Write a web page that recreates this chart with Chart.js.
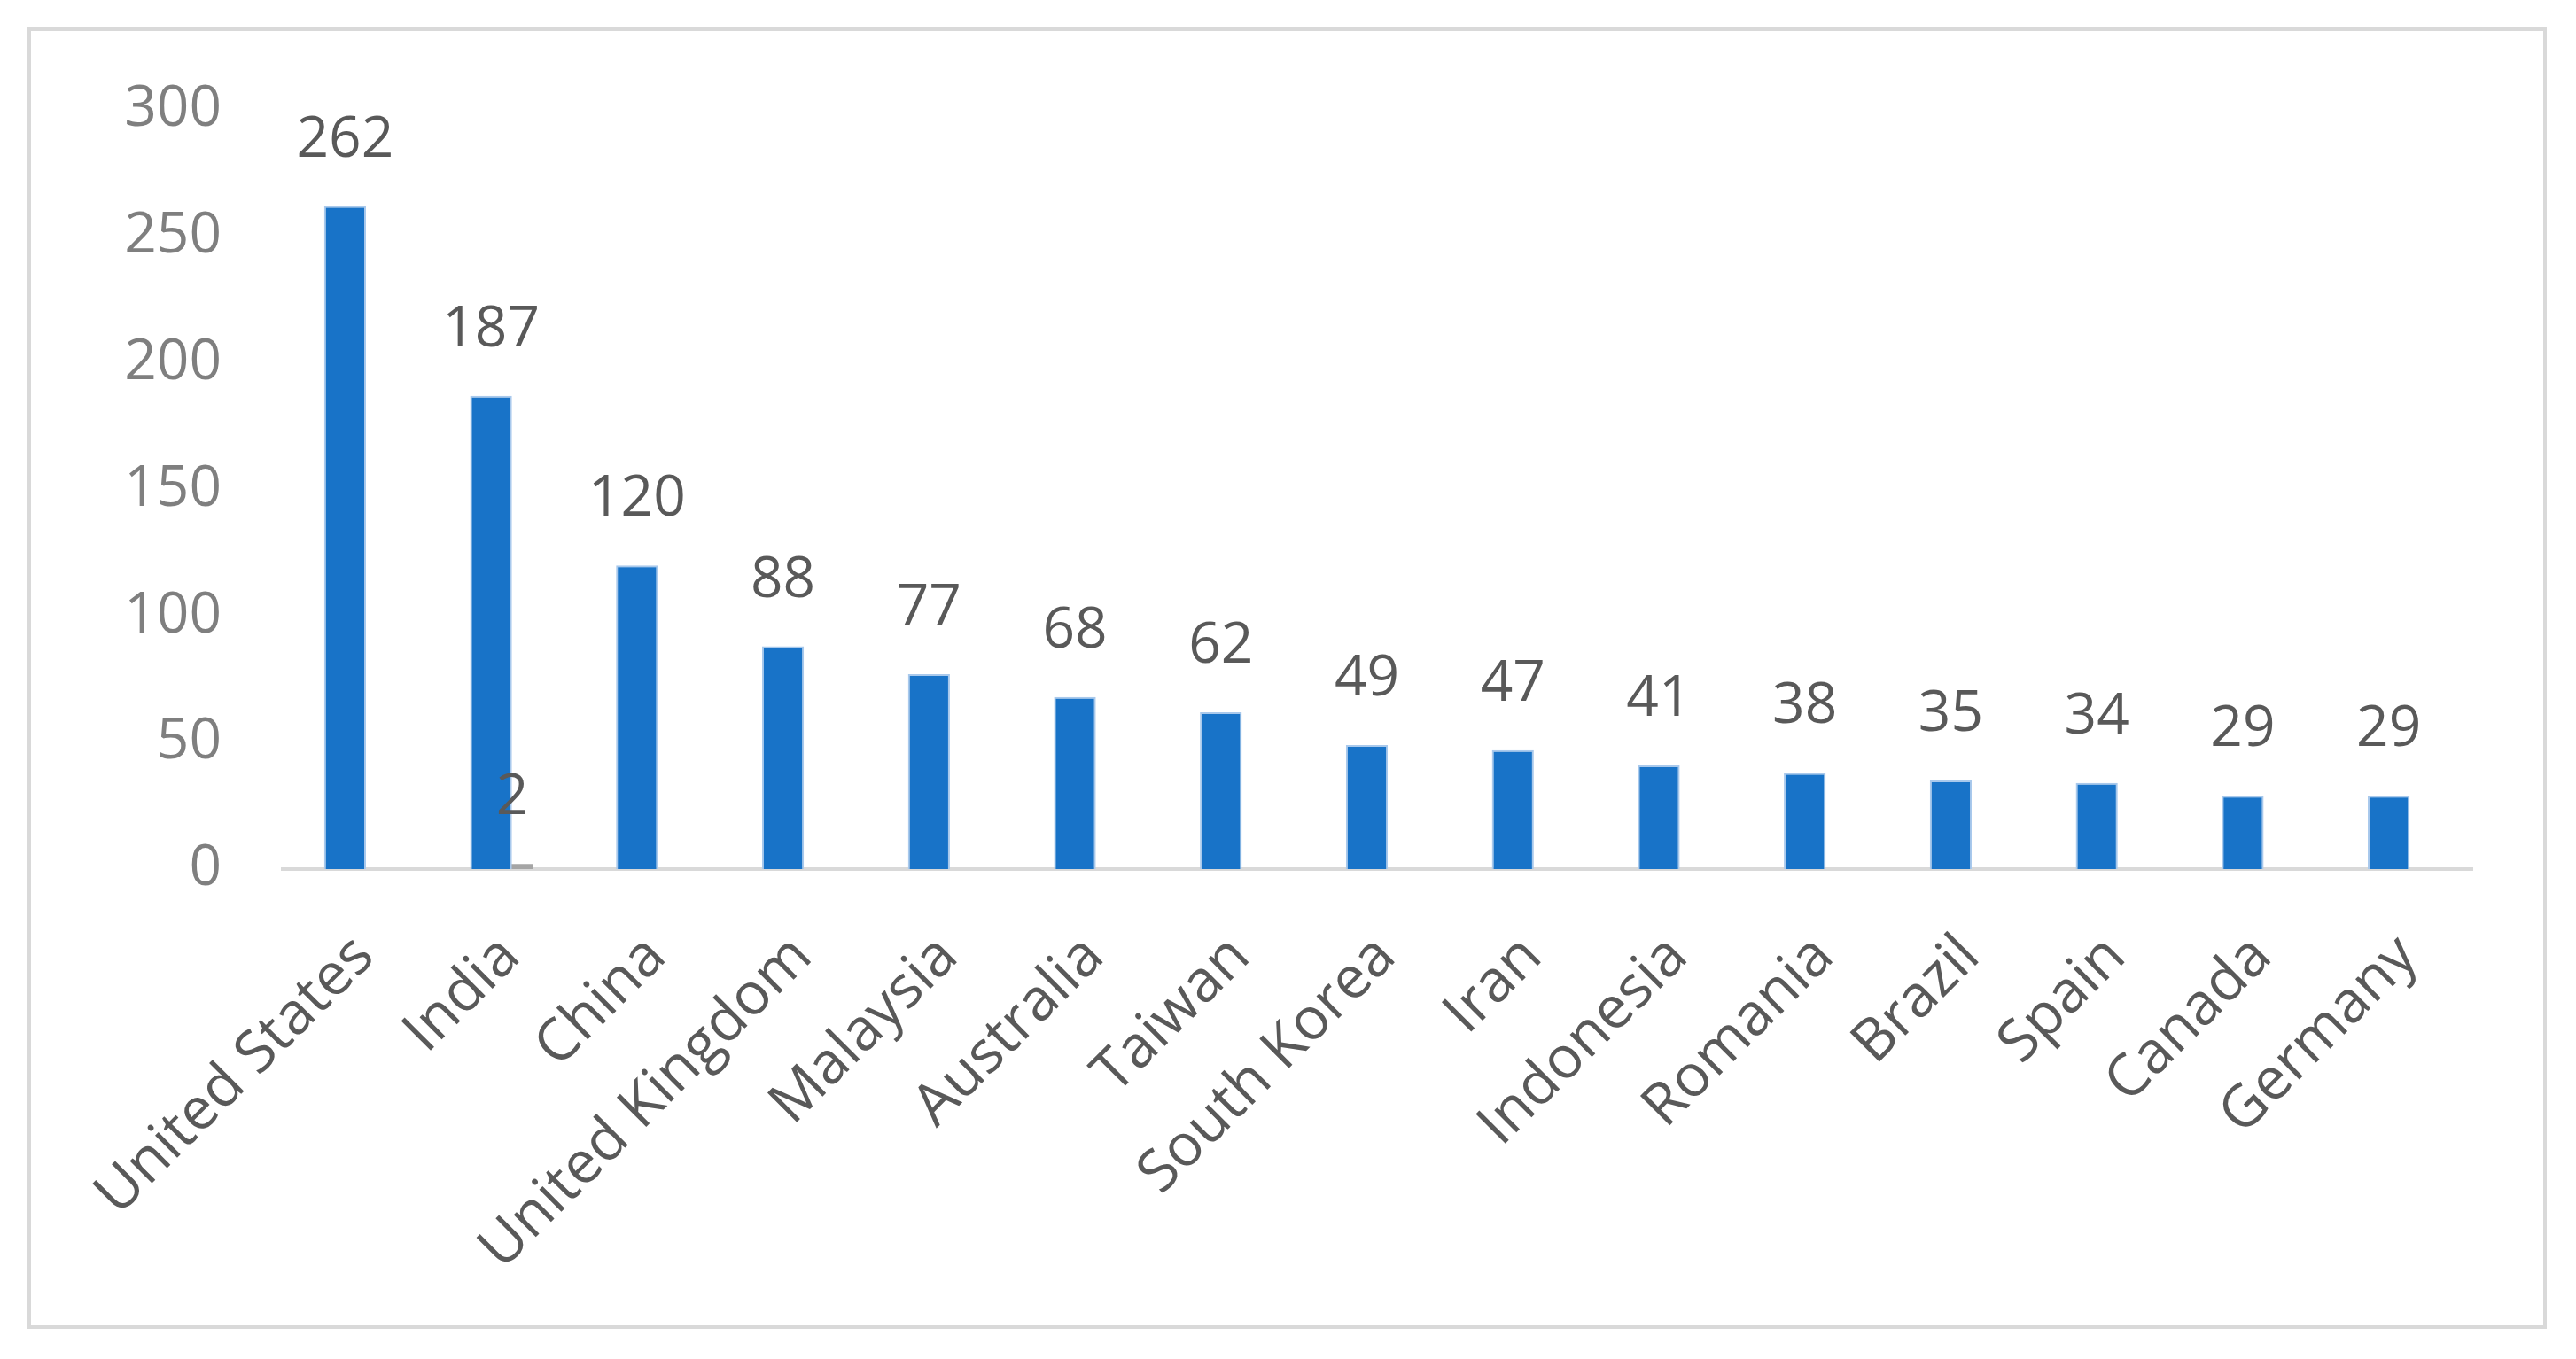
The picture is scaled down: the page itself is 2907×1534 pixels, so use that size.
<!DOCTYPE html>
<html>
<head>
<meta charset="utf-8">
<script src="https://cdn.jsdelivr.net/npm/chart.js@4"></script>
<style>
  html, body { margin: 0; padding: 0; background: #ffffff; }
  #wrap { position: relative; width: 2907px; height: 1534px; }
  canvas { display: block; }
</style>
</head>
<body>
<div id="wrap"><canvas id="c" width="2907" height="1534"></canvas></div>
<script>
const categories = ["United States", "India", "China", "United Kingdom", "Malaysia", "Australia", "Taiwan", "South Korea", "Iran", "Indonesia", "Romania", "Brazil", "Spain", "Canada", "Germany"];
const seriesMain = [262, 187, 120, 88, 77, 68, 62, 49, 47, 41, 38, 35, 34, 29, 29];
const seriesSecond = [null, 2, null, null, null, null, null, null, null, null, null, null, null, null, null];
const yTicks = [0, 50, 100, 150, 200, 250, 300];

const FONT = "'Open Sans', 'Noto Sans', sans-serif";

const borderPlugin = {
  id: 'frame',
  beforeDraw(chart) {
    const ctx = chart.ctx;
    ctx.save();
    ctx.fillStyle = '#ffffff';
    ctx.fillRect(0, 0, chart.width, chart.height);
    ctx.strokeStyle = '#D9D9D9';
    ctx.lineWidth = 4;
    ctx.strokeRect(33, 33, 2839, 1465);
    ctx.restore();
  }
};

const labelPlugin = {
  id: 'valueLabels',
  afterDatasetsDraw(chart) {
    const ctx = chart.ctx;
    ctx.save();
    ctx.font = "64px " + FONT;
    ctx.fillStyle = '#595959';
    ctx.textAlign = 'center';
    ctx.textBaseline = 'alphabetic';
    chart.data.datasets.forEach((ds, di) => {
      const meta = chart.getDatasetMeta(di);
      meta.data.forEach((el, i) => {
        const v = ds.data[i];
        if (v === null || v === undefined) return;
        ctx.fillText(String(v), el.x, el.y - 56);
      });
    });
    ctx.restore();
  }
};

new Chart(document.getElementById('c'), {
  type: 'bar',
  data: {
    labels: categories,
    datasets: [
      {
        data: seriesMain,
        backgroundColor: '#1873C8',
        borderColor: '#A9C9EC',
        borderWidth: 2,
        borderSkipped: 'bottom',
        categoryPercentage: 0.2914,
        barPercentage: 1.97
      },
      {
        data: seriesSecond,
        backgroundColor: '#A5A5A5',
        borderWidth: 0,
        categoryPercentage: 0.2914,
        barPercentage: 1.95
      }
    ]
  },
  options: {
    responsive: false,
    animation: false,
    devicePixelRatio: 1,
    layout: { padding: { left: 0, right: 117, top: 124, bottom: 0 } },
    plugins: {
      legend: { display: false },
      tooltip: { enabled: false },
      title: { display: false }
    },
    scales: {
      x: {
        grid: { display: false, drawTicks: false },
        border: { display: true, color: '#D9D9D9', width: 4 },
        ticks: {
          autoSkip: false,
          minRotation: 45,
          maxRotation: 45,
          padding: 60,
          labelOffset: 10,
          color: '#595959',
          font: { family: FONT, size: 66 }
        },
        afterFit(scale) { scale.height = 553; }
      },
      y: {
        min: 0,
        max: 300,
        grid: { display: false, drawTicks: false },
        border: { display: false },
        afterBuildTicks(scale) { scale.ticks = yTicks.map(v => ({ value: v })); },
        ticks: {
          padding: 69,
          color: '#7F7F7F',
          font: { family: FONT, size: 64 }
        },
        afterFit(scale) { scale.width = 319; }
      }
    }
  },
  plugins: [borderPlugin, labelPlugin]
});
</script>
</body>
</html>
